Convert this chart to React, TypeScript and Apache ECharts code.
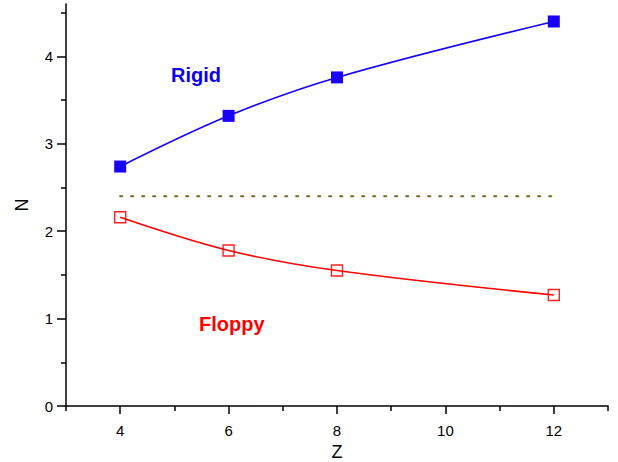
import React, { useEffect, useRef } from "react";
import * as echarts from "echarts";

const zValues = [4, 6, 8, 12];
const rigidN = [2.74, 3.32, 3.76, 4.4];
const floppyN = [2.16, 1.78, 1.55, 1.27];
const thresholdX = [4, 12];
const thresholdN = 2.4;
const xMajorTicks = [4, 6, 8, 10, 12];
const xMinorTicks = [3, 5, 7, 9, 11, 13];
const yMajorTicks = [0, 1, 2, 3, 4];
const yMinorTicks = [0.5, 1.5, 2.5, 3.5, 4.5];

const FONT = "'Liberation Sans', Arial, Helvetica, sans-serif";

export default function App() {
  const ref = useRef<HTMLDivElement>(null);
  useEffect(() => {
    if (!ref.current) return;
    const chart = echarts.init(ref.current, null, { renderer: "svg" });
    const rigid = zValues.map((z, i) => [z, rigidN[i]]);
    const floppy = zValues.map((z, i) => [z, floppyN[i]]);
    const gap = [...rigid, ...floppy];
    const axisLine = { show: true, lineStyle: { color: "#000", width: 1.5 } };
    chart.setOption({
      animation: false,
      backgroundColor: "#fff",
      grid: { left: 66, right: 10, top: 4, bottom: 56, containLabel: false, outerBoundsMode: "none" },
      xAxis: [
        {
          type: "value", min: 3, max: 13, interval: 1,
          name: "Z", nameLocation: "middle", nameGap: 37,
          nameTextStyle: { fontFamily: FONT, fontSize: 18, color: "#000" },
          axisLine,
          axisTick: { show: true, inside: false, length: 8, customValues: xMajorTicks, lineStyle: { color: "#000", width: 1.5 } },
          axisLabel: { customValues: xMajorTicks, margin: 17, fontFamily: FONT, fontSize: 15, color: "#000" },
          splitLine: { show: false },
        },
        {
          type: "value", min: 3, max: 13, interval: 1, position: "bottom",
          axisLine: { show: false },
          axisTick: { show: true, length: 5, customValues: xMinorTicks, lineStyle: { color: "#000", width: 1.5 } },
          axisLabel: { show: false },
          splitLine: { show: false },
        },
      ],
      yAxis: [
        {
          type: "value", min: 0, max: 4.6, interval: 1,
          name: "N", nameLocation: "middle", nameGap: 35, nameRotate: 90,
          nameTextStyle: { fontFamily: FONT, fontSize: 18, color: "#000" },
          axisLine,
          axisTick: { show: true, length: 9, customValues: yMajorTicks, lineStyle: { color: "#000", width: 1.5 } },
          axisLabel: { customValues: yMajorTicks, margin: 13, fontFamily: FONT, fontSize: 15, color: "#000" },
          splitLine: { show: false },
        },
        {
          type: "value", min: 0, max: 4.6, interval: 1, position: "left",
          axisLine: { show: false },
          axisTick: { show: true, length: 5, customValues: yMinorTicks, lineStyle: { color: "#000", width: 1.5 } },
          axisLabel: { show: false },
          splitLine: { show: false },
        },
      ],
      series: [
        {
          type: "line", data: thresholdX.map((x) => [x, thresholdN]),
          showSymbol: false, symbol: "none",
          lineStyle: { color: "#6e6e1e", width: 2.2, type: [2, 9], cap: "round" },
        },
        {
          type: "line", data: rigid, smooth: 0.35, showSymbol: false, symbol: "none",
          lineStyle: { color: "#1400ff", width: 1.6 },
        },
        {
          type: "line", data: floppy, smooth: 0.35, showSymbol: false, symbol: "none",
          lineStyle: { color: "#ff0000", width: 1.6 },
        },
        {
          type: "scatter", data: gap, symbol: "rect", symbolSize: 18,
          itemStyle: { color: "#fff", opacity: 1 }, silent: true,
        },
        {
          type: "scatter", data: rigid, symbol: "rect", symbolSize: 12,
          itemStyle: { color: "#1a00ff", opacity: 1 },
        },
        {
          type: "scatter", data: floppy, symbol: "rect", symbolSize: 11,
          itemStyle: { color: "#fff", borderColor: "#ff2020", borderWidth: 1.4, opacity: 1 },
        },
      ],
      graphic: [
        {
          type: "text", left: 171, top: 65,
          style: { text: "Rigid", fill: "#0a00f0", font: `bold 20px ${FONT}` },
        },
        {
          type: "text", left: 199, top: 314,
          style: { text: "Floppy", fill: "#ff0000", font: `bold 20px ${FONT}` },
        },
      ],
    });
    return () => chart.dispose();
  }, []);
  return <div ref={ref} style={{ position: "fixed", left: 0, top: 0, width: 618, height: 462 }} />;
}
